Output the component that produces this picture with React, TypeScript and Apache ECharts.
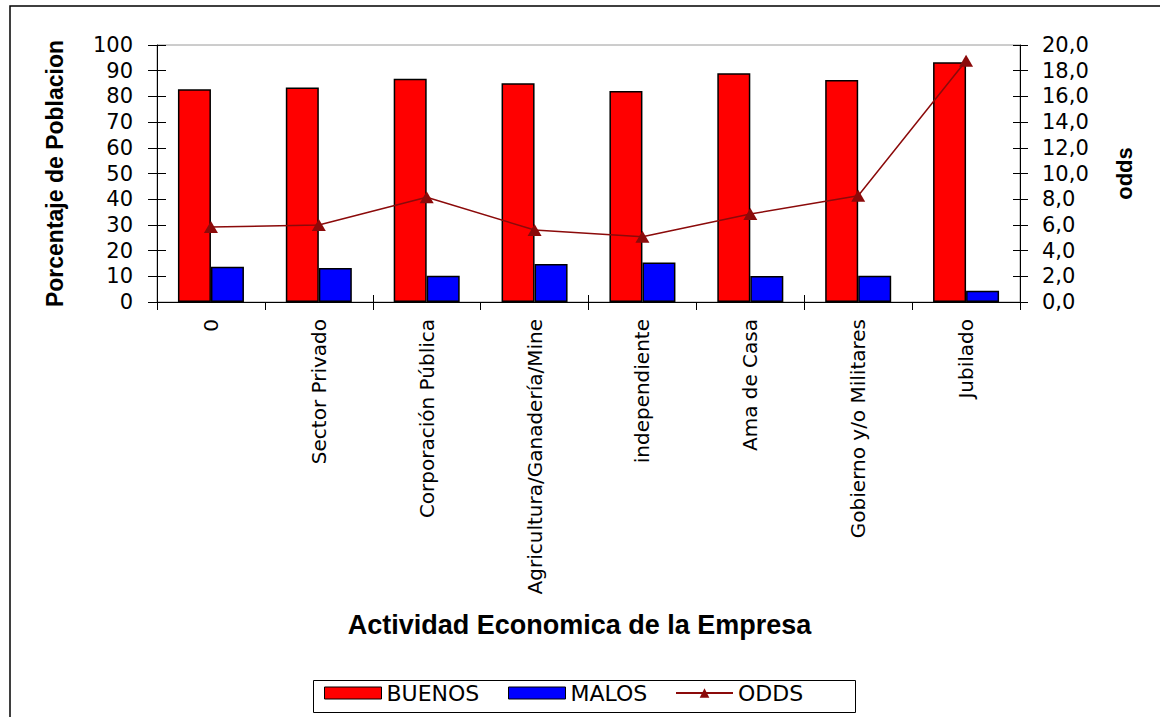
import React, { useEffect, useRef } from "react";
import * as echarts from "echarts";

// Economic activity categories
const categories: string[] = [
  "0",
  "Sector Privado",
  "Corporación Pública",
  "Agricultura/Ganadería/Mine",
  "independiente",
  "Ama de Casa",
  "Gobierno y/o Militares",
  "Jubilado",
];

// Share of population (%)
const buenos: number[] = [82.8, 83.5, 86.9, 85.1, 82.1, 89.0, 86.4, 93.3];
const malos: number[] = [13.7, 13.2, 10.2, 14.8, 15.4, 10.1, 10.2, 4.4];

// Odds per category
const odds: number[] = [5.84, 5.99, 8.15, 5.6, 5.08, 6.85, 8.27, 18.78];

const legendNames: string[] = ["BUENOS", "MALOS", "ODDS"];
// left edge of each legend entry
const legendLefts: number[] = [324, 508, 675];

const TICK_FONT = "'DejaVu Sans', sans-serif";
const TITLE_FONT = "'Liberation Sans', Arial, sans-serif";

export default function App() {
  const ref = useRef<HTMLDivElement | null>(null);

  useEffect(() => {
    if (!ref.current) return;
    const chart = echarts.init(ref.current, undefined, { renderer: "svg" });

    const tickStyle = { color: "#000", width: 1 };

    // one legend per entry so each can sit at its own spot inside the framed box
    const legends = legendNames.map((name, i) => ({
      data: [
        i < 2
          ? { name, icon: "rect", itemStyle: { borderWidth: 1, borderColor: "#000" } }
          : { name },
      ],
      left: legendLefts[i],
      top: 682,
      orient: "horizontal",
      itemWidth: 57,
      itemHeight: 12,
      padding: 0,
      selectedMode: false,
      textStyle: { fontSize: 22, fontFamily: TICK_FONT, color: "#000" },
    }));

    chart.setOption({
      animation: false,
      backgroundColor: "#fff",
      grid: {
        left: 157,
        right: 140,
        top: 45,
        bottom: 415,
        show: true,
        borderColor: "#9a9a9a",
        borderWidth: 1,
        backgroundColor: "transparent",
      },
      legend: legends,
      xAxis: [
        {
          type: "category",
          data: categories,
          position: "bottom",
          axisLine: { show: true, lineStyle: { color: "#000", width: 1 } },
          axisTick: { show: true, length: 8, lineStyle: tickStyle },
          axisLabel: {
            rotate: 90,
            interval: 0,
            margin: 17,
            fontSize: 20,
            fontFamily: TICK_FONT,
            color: "#000",
          },
          name: "Actividad Economica de la Empresa",
          nameLocation: "middle",
          nameGap: 309,
          nameTextStyle: {
            fontSize: 27,
            fontWeight: "bold",
            fontFamily: TITLE_FONT,
            color: "#000",
            padding: [0, 18, 0, 0],
          },
        },
        {
          type: "category",
          data: categories,
          position: "bottom",
          axisLine: { show: false },
          axisTick: { show: true, inside: true, length: 7, lineStyle: tickStyle },
          axisLabel: { show: false },
        },
      ],
      yAxis: [
        {
          type: "value",
          position: "left",
          min: 0,
          max: 100,
          interval: 10,
          splitLine: { show: false },
          axisLine: { show: true, lineStyle: { color: "#000", width: 1 } },
          axisTick: { show: true, length: 9, lineStyle: tickStyle },
          axisLabel: {
            margin: 24,
            fontSize: 21,
            fontFamily: TICK_FONT,
            color: "#000",
          },
          name: "Porcentaje de Poblacion",
          nameLocation: "middle",
          nameGap: 91,
          nameTextStyle: {
            fontSize: 23,
            fontWeight: "bold",
            fontFamily: TITLE_FONT,
            color: "#000",
          },
        },
        {
          type: "value",
          position: "right",
          min: 0,
          max: 20,
          interval: 2,
          splitLine: { show: false },
          axisLine: { show: true, lineStyle: { color: "#000", width: 1 } },
          axisTick: { show: true, length: 8, lineStyle: tickStyle },
          axisLabel: {
            margin: 22,
            fontSize: 21,
            fontFamily: TICK_FONT,
            color: "#000",
            formatter: (v: number) => v.toFixed(1).replace(".", ","),
          },
          name: "odds",
          nameLocation: "middle",
          nameGap: 93,
          nameTextStyle: {
            fontSize: 22,
            fontWeight: "bold",
            fontFamily: TITLE_FONT,
            color: "#000",
          },
        },
        {
          type: "value",
          position: "left",
          min: 0,
          max: 100,
          interval: 10,
          splitLine: { show: false },
          axisLine: { show: false },
          axisTick: { show: true, inside: true, length: 9, lineStyle: tickStyle },
          axisLabel: { show: false },
        },
        {
          type: "value",
          position: "right",
          min: 0,
          max: 20,
          interval: 2,
          splitLine: { show: false },
          axisLine: { show: false },
          axisTick: { show: true, inside: true, length: 7, lineStyle: tickStyle },
          axisLabel: { show: false },
        },
      ],
      series: [
        {
          name: "BUENOS",
          type: "bar",
          yAxisIndex: 0,
          data: buenos,
          barWidth: 33,
          barGap: "0%",
          itemStyle: { color: "#FF0000", borderColor: "#000", borderWidth: 1.5 },
        },
        {
          name: "MALOS",
          type: "bar",
          yAxisIndex: 0,
          data: malos,
          barWidth: 33,
          barGap: "0%",
          itemStyle: { color: "#0000FF", borderColor: "#000", borderWidth: 1.5 },
        },
        {
          name: "ODDS",
          type: "line",
          yAxisIndex: 1,
          data: odds,
          symbol: "triangle",
          symbolSize: [14, 12],
          lineStyle: { color: "#8B0A0A", width: 1.5 },
          itemStyle: { color: "#8B0A0A" },
          z: 5,
        },
      ],
      graphic: [
        {
          type: "rect",
          silent: true,
          shape: { x: 10, y: 6, width: 1170, height: 730 },
          style: { fill: "none", stroke: "#000", lineWidth: 1.5 },
        },
        {
          // legend frame
          type: "rect",
          silent: true,
          shape: { x: 313.5, y: 680.5, width: 542, height: 32 },
          style: { fill: "none", stroke: "#000", lineWidth: 1 },
        },
      ],
    });

    return () => {
      chart.dispose();
    };
  }, []);

  return (
    <div
      ref={ref}
      style={{ position: "fixed", left: 0, top: 0, width: 1160, height: 717 }}
    />
  );
}
